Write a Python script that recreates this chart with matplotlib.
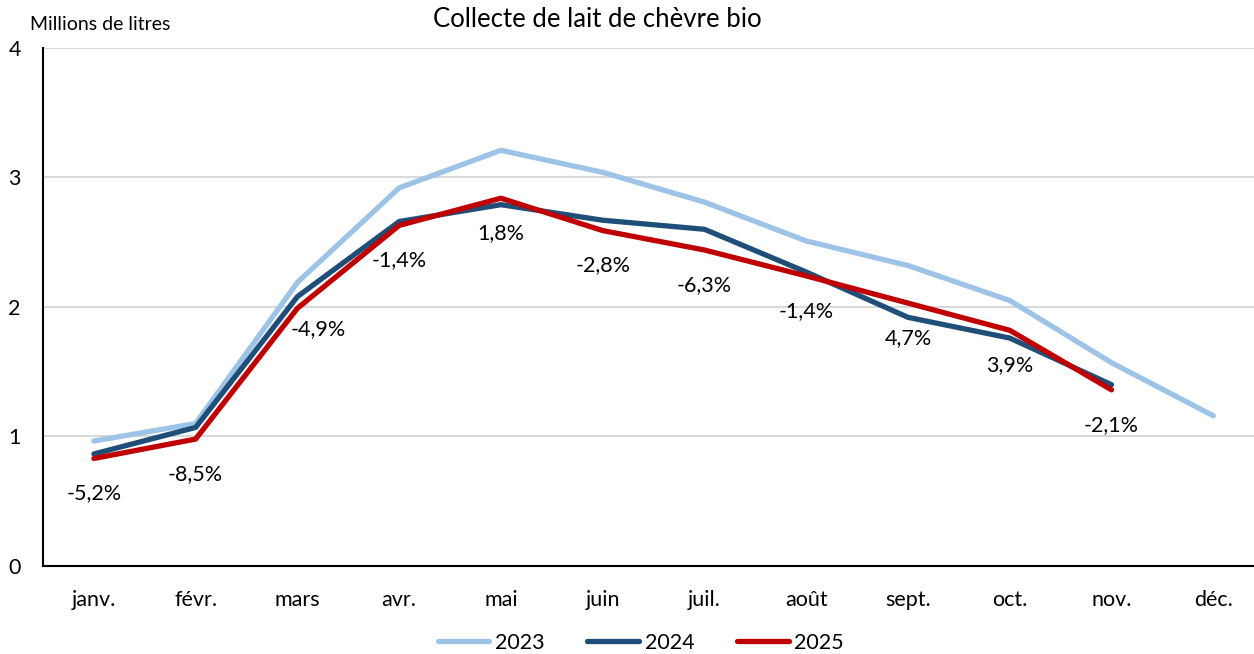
import matplotlib
matplotlib.use("Agg")
import matplotlib.pyplot as plt

plt.rcParams['font.family'] = ['Lato', 'DejaVu Sans']

months = ["janv.", "févr.", "mars", "avr.", "mai", "juin", "juil.", "août", "sept.", "oct.", "nov.", "déc."]
y2023 = [0.965, 1.10, 2.19, 2.92, 3.21, 3.04, 2.81, 2.51, 2.32, 2.05, 1.57, 1.16]
y2024 = [0.865, 1.07, 2.08, 2.66, 2.79, 2.67, 2.60, 2.27, 1.92, 1.76, 1.40]
y2025 = [0.83, 0.98, 1.99, 2.63, 2.84, 2.59, 2.44, 2.24, 2.03, 1.82, 1.36]
labels = ["-5,2%", "-8,5%", "-4,9%", "-1,4%", "1,8%", "-2,8%", "-6,3%", "-1,4%", "4,7%", "3,9%", "-2,1%"]

fs = 15.5
fig = plt.figure(figsize=(12.54, 6.54), dpi=100)
ax = fig.add_axes([0.0343, 0.1346, 0.9657, 0.792])

x = list(range(len(months)))
c23, c24, c25 = "#9DC3E6", "#1F4E79", "#C00000"
ax.plot(x[:len(y2023)], y2023, color=c23, lw=3.8, label="2023", solid_capstyle="round", zorder=3)
ax.plot(x[:len(y2024)], y2024, color=c24, lw=3.8, label="2024", solid_capstyle="round", zorder=4)
ax.plot(x[:len(y2025)], y2025, color=c25, lw=3.8, label="2025", solid_capstyle="round", zorder=5)

for i, (v, t) in enumerate(zip(y2025, labels)):
    dx, dy = (21, -21) if i == 2 else (0, -35)
    ax.annotate(t, (i, v), xytext=(dx, dy), textcoords="offset pixels",
                ha="center", va="center", fontsize=fs, color="#000000", zorder=6)

ax.set_xlim(-0.5, 11.4)
ax.set_ylim(0, 4)
ax.set_yticks([0, 1, 2, 3, 4])
ax.set_xticks(x)
ax.set_xticklabels(months)
ax.tick_params(axis="both", length=0, labelsize=fs, colors="#000000")
ax.tick_params(axis="x", pad=17)
ax.tick_params(axis="y", pad=16)
ax.grid(axis="y", color="#D9D9D9", lw=1.5, zorder=0)
ax.set_axisbelow(True)
for s in ["top", "right"]:
    ax.spines[s].set_visible(False)
ax.spines["left"].set_color("#000000")
ax.spines["left"].set_linewidth(1.5)
ax.spines["bottom"].set_color("#000000")
ax.spines["bottom"].set_linewidth(1.5)

fig.text(0.476, 0.970, "Collecte de lait de chèvre bio", ha="center", va="center", fontsize=18.5)
fig.text(0.024, 0.962, "Millions de litres", ha="left", va="center", fontsize=14)

fig.legend(loc="center", bbox_to_anchor=(0.511, 0.017), ncol=3, frameon=False,
           fontsize=fs, handlelength=2.4, handletextpad=0.25, columnspacing=2.0)

fig.savefig("out.png", dpi=100)
